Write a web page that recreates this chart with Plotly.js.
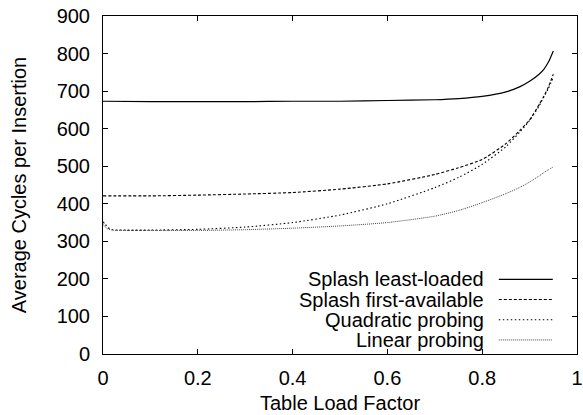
<!DOCTYPE html>
<html>
<head>
<meta charset="utf-8">
<script src="https://cdn.plot.ly/plotly-3.0.1.min.js"></script>
<style>html,body{margin:0;padding:0;background:#fff;}#chart{width:583px;height:415px;}</style>
</head>
<body>
<div id="chart"></div>
<script>
// Data
var seriesNames = ["Splash least-loaded", "Splash first-available", "Quadratic probing", "Linear probing"];

var xLeast = [0, 0.1, 0.2, 0.3, 0.4, 0.5, 0.6, 0.7, 0.75, 0.8, 0.85, 0.88, 0.9, 0.92, 0.93, 0.94, 0.95];
var yLeast = [673, 672, 672, 672, 673, 673, 675, 677, 680, 686, 698, 712, 726, 745, 758, 778, 807];

var xFirst = [0, 0.1, 0.2, 0.3, 0.4, 0.5, 0.6, 0.7, 0.75, 0.8, 0.85, 0.88, 0.9, 0.92, 0.93, 0.94, 0.95];
var yFirst = [421, 421, 423, 426, 430, 439, 453, 478, 496, 518, 560, 596, 623, 664, 686, 712, 745];

var xQuad = [0, 0.005, 0.01, 0.02, 0.05, 0.1, 0.2, 0.3, 0.4, 0.5, 0.6, 0.7, 0.75, 0.8, 0.85, 0.88, 0.9, 0.92, 0.93, 0.94, 0.95];
var yQuad = [352, 345, 337, 331, 330, 330, 332, 338, 350, 370, 400, 443, 470, 505, 552, 592, 622, 660, 684, 708, 737];

var xLin = [0, 0.005, 0.01, 0.02, 0.05, 0.1, 0.2, 0.3, 0.4, 0.5, 0.6, 0.7, 0.75, 0.8, 0.85, 0.88, 0.9, 0.92, 0.93, 0.94, 0.95];
var yLin = [345, 338, 333, 330, 329, 329, 329, 331, 335, 341, 350, 367, 382, 403, 427, 444, 458, 474, 483, 491, 498];

var xTickVals = [0, 0.2, 0.4, 0.6, 0.8, 1];
var xTickText = ["0", "0.2", "0.4", "0.6", "0.8", "1"];
var yTickVals = [0, 100, 200, 300, 400, 500, 600, 700, 800, 900];

// Styles
var styles = [
  {color: "#000", width: 1.2, dash: "solid"},
  {color: "#000", width: 1.1, dash: "3px,2px"},
  {color: "#000", width: 1.1, dash: "1.5px,2.5px"},
  {color: "#444", width: 1, dash: "1px,1px"}
];

var xs = [xLeast, xFirst, xQuad, xLin];
var ys = [yLeast, yFirst, yQuad, yLin];

var traces = xs.map(function (x, i) {
  return {
    x: x, y: ys[i], name: seriesNames[i], type: "scatter", mode: "lines",
    line: {color: styles[i].color, width: styles[i].width, dash: styles[i].dash, shape: "spline", smoothing: 0.6},
    showlegend: false, hoverinfo: "skip"
  };
});

// Legend built with annotations + shapes (text on left, sample on right)
var legendTop = 0.221, legendStep = 0.0598;
var annotations = [];
var shapes = [];
var fontFam = "Liberation Sans, Arial, sans-serif";
seriesNames.forEach(function (n, i) {
  var ly = legendTop - i * legendStep;
  annotations.push({
    xref: "paper", yref: "paper", x: 0.808, y: ly, xanchor: "right", yanchor: "middle",
    text: n, showarrow: false, font: {family: fontFam, size: 20, color: "#000"}
  });
  shapes.push({
    type: "line", xref: "paper", yref: "paper", x0: 0.835, x1: 0.949, y0: ly, y1: ly,
    line: {color: styles[i].color, width: styles[i].width, dash: styles[i].dash}
  });
});

var axisCommon = {
  showgrid: false, zeroline: false, showline: true, linecolor: "#000", linewidth: 1,
  mirror: "allticks", ticks: "inside", ticklen: 5, tickwidth: 1, tickcolor: "#000",
  tickfont: {family: fontFam, size: 20, color: "#000"}
};

var layout = {
  width: 583, height: 415,
  margin: {l: 103, r: 6, t: 16, b: 61},
  paper_bgcolor: "#fff", plot_bgcolor: "#fff",
  font: {family: fontFam, size: 20, color: "#000"},
  xaxis: Object.assign({}, axisCommon, {
    range: [0, 1], tickvals: xTickVals, ticktext: xTickText, ticklabelstandoff: 6,
    title: {text: "Table Load Factor", font: {size: 20}, standoff: 7}
  }),
  yaxis: Object.assign({}, axisCommon, {
    range: [0, 900], tickvals: yTickVals, ticklabelstandoff: 8,
    title: {text: "Average Cycles per Insertion", font: {size: 20}, standoff: 24}
  }),
  annotations: annotations,
  shapes: shapes
};

Plotly.newPlot("chart", traces, layout, {displayModeBar: false, staticPlot: true});
</script>
</body>
</html>
